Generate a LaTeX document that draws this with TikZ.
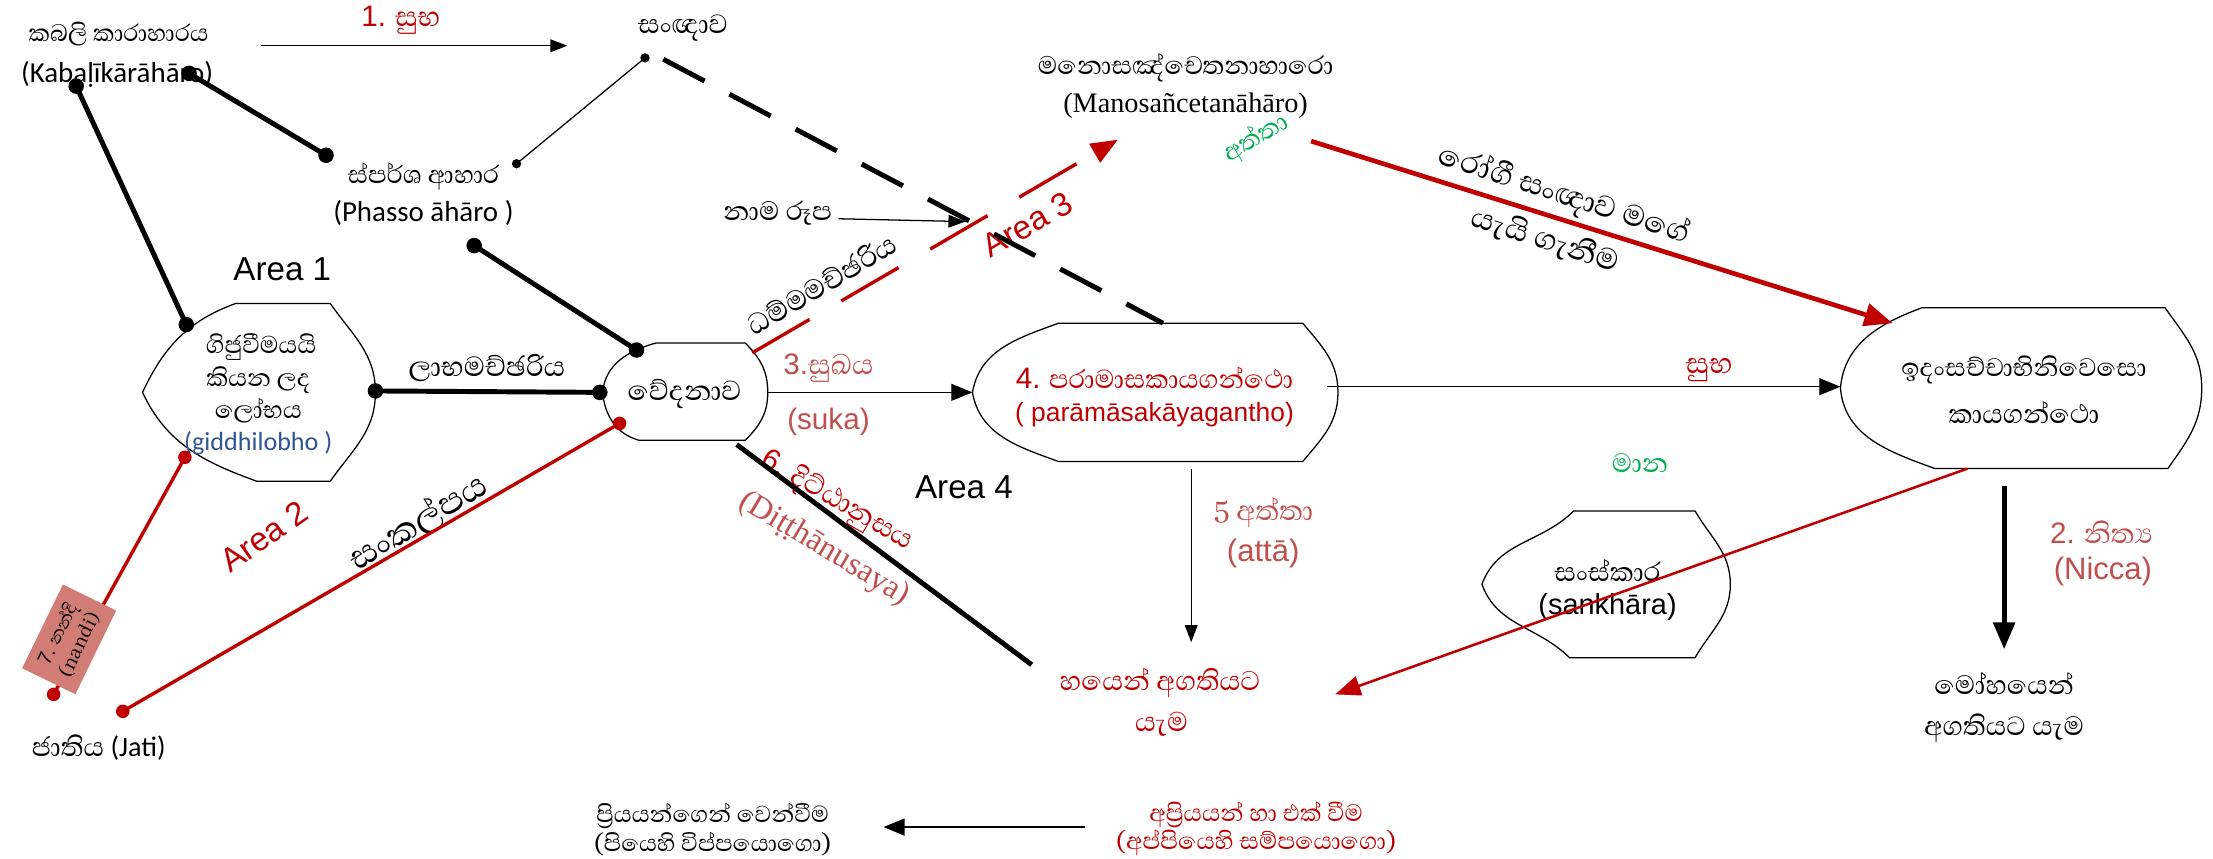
\documentclass[tikz,border=0pt]{standalone}
\usepackage{fontspec}
\setmainfont{Liberation Sans}
\newfontfamily\sinf[Script=Sinhala]{Abhaya Libre}
\newfontfamily\calf{Carlito}
\newfontfamily\serf{Liberation Serif}
\usetikzlibrary{arrows.meta}
\definecolor{dred}{HTML}{C00000}
\definecolor{lred}{HTML}{C0504D}
\definecolor{grn}{HTML}{00B050}
\definecolor{blu}{HTML}{2F5597}
\definecolor{salm}{HTML}{D17C74}
\begin{document}
\begin{tikzpicture}[x=1pt,y=1pt,
 lbl/.style={inner sep=0pt,align=center},
 si/.style={lbl,font=\sinf\fontsize{#1}{#1}\selectfont}, si/.default=23,
 ca/.style={lbl,font=\calf\fontsize{#1}{#1}\selectfont}, ca/.default=20.5,
 ar/.style={lbl,font=\fontsize{#1}{#1}\selectfont}, ar/.default=21,
 se/.style={lbl,font=\serf\fontsize{#1}{#1}\selectfont}, se/.default=20,
 shp/.style={draw=black,line width=0.9pt},
 thk/.style={line width=3.5pt},
 thn/.style={line width=0.9pt},
 rdl/.style={dred,line width=2.4pt},
 tipS/.style={-{Triangle[length=12pt,width=9pt]}},
 tipM/.style={-{Triangle[length=15pt,width=12pt]}},
 tipL/.style={-{Triangle[length=19pt,width=15pt]}},
]
\useasboundingbox (0,0) rectangle (1568,-608.6);

% ---------- shapes ----------
\draw[shp] (167,-215) -- (234,-215) to[out=-55,in=90] (266,-278) to[out=-90,in=55] (234,-341) -- (182,-341) to[out=160,in=-65] (101,-278) to[out=65,in=-160] (167,-215);
\draw[shp] (465,-243) -- (528,-243) to[out=-45,in=90] (544,-278) to[out=-90,in=45] (528,-312) -- (453,-312) to[out=165,in=-85] (427,-278) to[out=85,in=-165] (465,-243);
\draw[shp] (750,-229) -- (923,-229) to[out=-50,in=90] (948,-278) to[out=-90,in=50] (923,-327) -- (750,-327) to[out=160,in=-80] (689,-278) to[out=80,in=-160] (750,-229);
\draw[shp] (1362,-218) -- (1534,-218) to[out=-55,in=90] (1560,-275) to[out=-90,in=55] (1536,-332) -- (1371,-332) to[out=160,in=-85] (1304,-275) to[out=85,in=-160] (1362,-218);
\draw[shp] (1115,-362) -- (1201,-362) to[out=-60,in=90] (1226,-414) to[out=-90,in=60] (1201,-466) -- (1112,-466) to[out=135,in=-70] (1050,-414) to[out=70,in=-135] (1115,-362);

% ---------- coordinates ----------
\coordinate (dK1) at (54,-61);
\coordinate (dK2) at (134,-52);
\coordinate (dS1) at (231,-110);
\coordinate (dS2) at (336,-174);
\coordinate (dG1) at (132,-230);
\coordinate (dG2) at (266,-277);
\coordinate (dV2) at (425,-278);
\coordinate (dV1) at (451,-248);
\coordinate (dV3) at (439,-300);
\coordinate (dG3) at (131,-324);
\coordinate (dN) at (38,-492);
\coordinate (dJ) at (87,-504);
\coordinate (dSan) at (457,-41);
\coordinate (dSpa) at (366,-116);
\coordinate (dashA) at (470,-42);
\coordinate (parTop) at (824,-229);
\coordinate (vedTR) at (533,-250);
\coordinate (manoTip) at (792,-99);
\coordinate (vedBR) at (522,-315);
\coordinate (blEnd) at (731,-471);
\coordinate (a1s) at (185,-32.4);
\coordinate (a1e) at (402,-32.4);
\coordinate (nmS) at (594,-155);
\coordinate (nmE) at (684,-157);
\coordinate (vedR) at (544,-278);
\coordinate (parL) at (689,-278);
\coordinate (parR) at (940,-274);
\coordinate (idL) at (1304,-274);
\coordinate (parB) at (844,-332);
\coordinate (hayT) at (844,-455);
\coordinate (idB1) at (1420,-344);
\coordinate (mohT) at (1420,-460);
\coordinate (idB2) at (1394,-332);
\coordinate (hayR) at (946,-492);
\coordinate (manoR) at (929,-100);
\coordinate (idTL) at (1341,-229);
\coordinate (bA) at (769,-586);
\coordinate (bB) at (626,-586);

% ---------- texts ----------
\node[si=21.5] (kab) at (84,-24) {කබලි කාරාහාරය};
\node[ca] (kabl) at (83,-53) {(Kabaḷīkārāhāro)};
\node[si=25,dred] (s1) at (284,-14) {{\rmfamily\fontsize{21}{21}\selectfont 1.} සුභ};
\node[si=24] (sanna) at (484,-20) {සංඥාව};
\node[si=22.5] (spa) at (300,-125) {ස්පර්ශ ආහාර};
\node[ca] (pha) at (300,-151) {(Phasso āhāro )};
\node[ar=23.5] (ar1) at (200,-191) {Area 1};
\node[si=22] (g1) at (185,-246) {ගිජුවීමයයි};
\node[si=22] (g2) at (183,-269) {කියන ලද};
\node[si=22] (g3) at (183,-291) {ලෝභය};
\node[ca=18.5,blu] (g4) at (183,-314) {(giddhilobho )};
\node[si=25] (labha) at (345,-261) {ලාභමච්ඡරිය};
\node[si=25] (ved) at (485,-279) {වේදනාව};
\node[si=25,lred] (suk1) at (587,-261) {{\rmfamily\fontsize{21}{21}\selectfont 3.}සුඛය};
\node[ar,lred] (suk2) at (587,-299) {(suka)};
\node[si=23.5,dred] (par1) at (818,-268) {{\rmfamily\fontsize{21}{21}\selectfont 4.} පරාමාසකායගන්ථො};
\node[ar=18.7,dred] (par2) at (818,-294) {( parāmāsakāyagantho)};
\node[si=26,dred] (subha) at (1211,-262) {සුභ};
\node[si=23] (id1) at (1434,-262) {ඉදංසච්චාභිනිවෙසො};
\node[si=24] (id2) at (1434,-292) {කායගන්ථො};
\node[si=24,grn] (mana) at (1162,-328) {මාන};
\node[si=24] (sk1) at (1139,-404) {සංස්කාර};
\node[ar=20.5] (sk2) at (1139,-430) {(sankhāra)};
\node[si=25,lred] (at1) at (895,-363) {5 අත්තා};
\node[ar=22,lred] (at2) at (895,-392) {(attā)};
\node[si=24.5,dred] (hy1) at (822,-484) {හයෙන් අගතියට};
\node[si=24.5,dred] (hy2) at (823,-513) {යැම};
\node[ar=23.5] (ar4) at (683,-345) {Area 4};
\node[si=25,dred,rotate=-30] (dt1) at (593,-355) {{\rmfamily\fontsize{21}{21}\selectfont 6.} දිට්ඨානුසය};
\node[se=23,lred,rotate=-31] (dt2) at (584,-389) {(Diṭṭhānusaya)};
\node[si=31,rotate=31] (sank) at (296,-370) {සංකල්පය};
\node[ar=23.5,dred,rotate=35] (ar2) at (187,-380) {Area 2};
\node[si=25.5,rotate=30.6] (dham) at (582,-201) {ධම්මමච්ඡරිය};
\node[ar=23.5,dred,rotate=30] (ar3) at (728,-159) {Area 3};
\node[si=24] (nama) at (551,-151) {නාම රූප};
\node[si=23,grn,rotate=31] (atg) at (890,-98) {අත්තා};
\node[si=23] (mano1) at (840,-48) {මනොසඤ්චෙතනාහාරො};
\node[se] (mano2) at (840,-75) {(Manosañcetanāhāro)};
\node[si=27,rotate=-17.7] (rog1) at (1108,-139) {රෝගී සංඥාව මගේ};
\node[si=27,rotate=-17.7] (rog2) at (1095,-170) {යැයි ගැනීම};
\node[si=25,lred] (nic1) at (1489,-377) {{\rmfamily\fontsize{21}{21}\selectfont 2.} නිත්‍ය};
\node[ar=22,lred] (nic2) at (1490,-405) {(Nicca)};
\node[si=24] (moh1) at (1420,-484) {මෝහයෙන්};
\node[si=24] (moh2) at (1420,-516) {අගතියට යැම};
\node[si=24] (jati) at (70,-530) {ජාතිය {\calf\fontsize{20}{20}\selectfont (Jati)}};
\node[si=21] (pr1) at (505,-578) {ප්‍රියයන්ගෙන් වෙන්වීම};
\node[si=21] (pr2) at (505,-598) {(පියෙහි විප්පයොගො)};
\node[si=21.5,dred] (ap1) at (890,-577) {අප්‍රියයන් හා එක් වීම};
\node[si=21.5,dred] (ap2) at (890,-597) {(අප්පියෙහි සම්පයොගො)};

% ---------- connectors ----------
\draw[thk] (dK1) -- (dG1);
\draw[thk] (dK2) -- (dS1);
\draw[thk] (dS2) -- (dV1);
\draw[thk] (dG2) -- (dV2);
\draw[thn] (dSan) -- (dSpa);
\draw[thk,dash pattern=on 33pt off 20pt] (dashA) -- (parTop);
\draw[rdl] (dV3) -- (dJ);
\draw[rdl] (dG3) -- (dN);
\draw[thk] (vedBR) -- (blEnd);
\draw[rdl,dash pattern=on 47pt off 26pt,-{Triangle[length=19pt,width=15pt]}] (vedTR) -- (manoTip);
\draw[thn,tipS] (a1s) -- (a1e);
\draw[thn,tipS] (nmS) -- (nmE);
\draw[thn,tipM] (vedR) -- (parL);
\draw[thn,tipM] (parR) -- (idL);
\draw[thn,tipS] (parB) -- (hayT);
\draw[thk,tipL] (idB1) -- (mohT);
\draw[dred,line width=1.8pt,-{Triangle[length=18pt,width=14pt]}] (idB2) -- (hayR);
\draw[dred,line width=3.3pt,-{Triangle[length=20pt,width=16pt]}] (manoR) -- (idTL);
\draw[line width=1.5pt,tipM] (bA) -- (bB);

% ---------- dots ----------
\foreach \p in {dK1,dK2,dS1,dS2,dG1,dG2,dV1,dV2} \fill (\p) circle (5.5);
\foreach \p in {dV3,dG3,dN,dJ} \fill[dred] (\p) circle (4.8);
\foreach \p in {dSan,dSpa} \fill (\p) circle (3.3);

% ---------- nandi box ----------
\node[fill=salm,rotate=64,minimum width=66pt,minimum height=42pt,inner sep=1pt,align=center,font=\sinf\fontsize{16}{17}\selectfont] (nandi) at (49,-453) {{\rmfamily\fontsize{14}{14}\selectfont 7.} නන්දි\\(nandi)};
\end{tikzpicture}
\end{document}
